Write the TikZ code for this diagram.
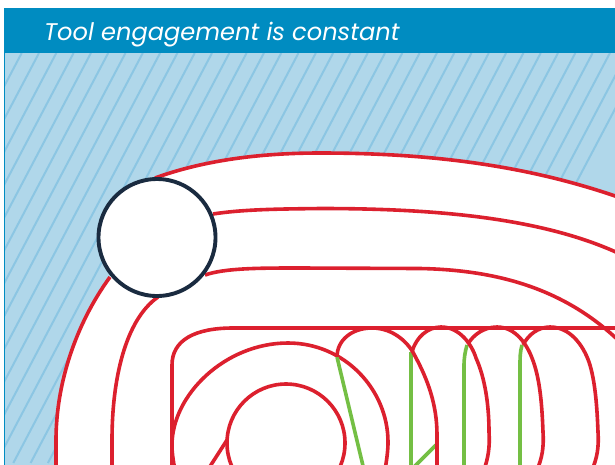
\documentclass[tikz,border=0pt]{standalone}
\usepackage{fontspec}
\setmainfont{Poppins}
\definecolor{bannerblue}{HTML}{008CC1}
\definecolor{stockblue}{HTML}{B0D7EA}
\definecolor{hatchblue}{HTML}{8CC6E3}
\definecolor{pathred}{HTML}{DC202E}
\definecolor{linkgreen}{HTML}{74BF44}
\definecolor{toolnavy}{HTML}{1A2B40}
\tikzset{
  toolpath/.style={draw=pathred,line width=3.6pt,line join=round},
  linkmove/.style={draw=linkgreen,line width=3.6pt},
  hatchline/.style={draw=hatchblue,line width=2pt},
  cutter/.style={draw=toolnavy,fill=white,line width=3.9pt}
}
\begin{document}
\begin{tikzpicture}[x=1pt,y=-1pt]
  \useasboundingbox (0,0) rectangle (615,464);

  \coordinate (TL) at (4,53);
  \coordinate (BR) at (616,465);
  \coordinate (T) at (157,237.5);

  % stock with hatching
  \fill[stockblue] (TL) rectangle (BR);
  \begin{scope}
    \clip (TL) rectangle (BR);
    \foreach \i in {0,...,60} {
      \draw[hatchline] (21.7+17.3*\i-17.3*24,53) -- ++(-216,410);
    }
  \end{scope}
  \draw[bannerblue,line width=1.4pt] (4.5,53) -- (4.5,465);

  % banner
  \fill[bannerblue] (4,8) rectangle (616,53);
  \node[anchor=base west,inner sep=0pt,text=white,font=\fontsize{24.1}{28}\selectfont\itshape] (title) at (44,40) {Tool engagement is constant};

  % machined area
  \fill[white] (56,470) -- (56,440) .. controls (56,385) and (75,325) .. (110,277) -- (155,178) .. controls (210,158) and (270,153) .. (320,153) .. controls (420,153) and (520,163) .. (618,197) -- (618,470) -- cycle;

  % outer passes
  \draw[toolpath] (56,470) -- (56,440) .. controls (56,385) and (75,325) .. (110,277);
  \draw[toolpath] (155,178) .. controls (210,158) and (270,153) .. (320,153) .. controls (420,153) and (520,163) .. (618,197);
  \draw[toolpath] (112,470) -- (112,440) .. controls (112,380) and (125,320) .. (158,297);
  \draw[toolpath] (213,214) .. controls (245,209) and (285,209) .. (320,208.5) .. controls (420,208.5) and (535,215) .. (618,253);
  \draw[toolpath] (205,275) .. controls (225,268) and (260,268) .. (300,268) -- (420,268.5) .. controls (500,270) and (565,290) .. (618,340);

  % inner box
  \draw[toolpath] (172,470) -- (172,365) .. controls (172,340) and (195,328) .. (233,328) -- (618,328);

  % rings
  \draw[toolpath] (175,470) .. controls (173,460) and (172,452) .. (172,445) .. controls (172,395) and (225,343) .. (288,343) .. controls (345,343) and (388,390) .. (388,442) .. controls (388,450) and (387,458) .. (385,470);
  \draw[toolpath] (286,443) circle[radius=59];
  \draw[toolpath] (227,440) -- (209,468);

  % links
  \draw[linkmove] (337,357) -- (364,470);
  \draw[linkmove] (411,352) -- (411,470);
  \draw[linkmove] (436,445) -- (411,470);
  \draw[linkmove] (467,345) .. controls (465,352) and (464,358) .. (464,366) -- (464,470);
  \draw[linkmove] (522,345) .. controls (520,352) and (520,358) .. (520,366) -- (520,470);

  % loops
  \draw[toolpath] (337,357) .. controls (337,340) and (352,328) .. (372,328) .. controls (395,328) and (410,345) .. (415,356) .. controls (428,380) and (437,405) .. (437,435) -- (437,470);
  \draw[toolpath] (412,352) .. controls (416,337) and (428,327) .. (441,327) .. controls (460,327) and (472,345) .. (476,358) .. controls (485,378) and (489,405) .. (489,432) .. controls (490,448) and (488,458) .. (484,470);
  \draw[toolpath] (468,344) .. controls (473,335) and (484,327) .. (497,327) .. controls (516,327) and (527,345) .. (532,358) .. controls (540,378) and (542,405) .. (543,432) .. controls (544,448) and (542,458) .. (537,470);
  \draw[toolpath] (523,345) .. controls (528,335) and (538,327) .. (550,327) .. controls (570,327) and (583,345) .. (589,362) .. controls (595,380) and (597,405) .. (598,432) .. controls (599,448) and (597,458) .. (592,470);

  % tool
  \draw[cutter] (T) circle[radius=58.5];
\end{tikzpicture}
\end{document}
